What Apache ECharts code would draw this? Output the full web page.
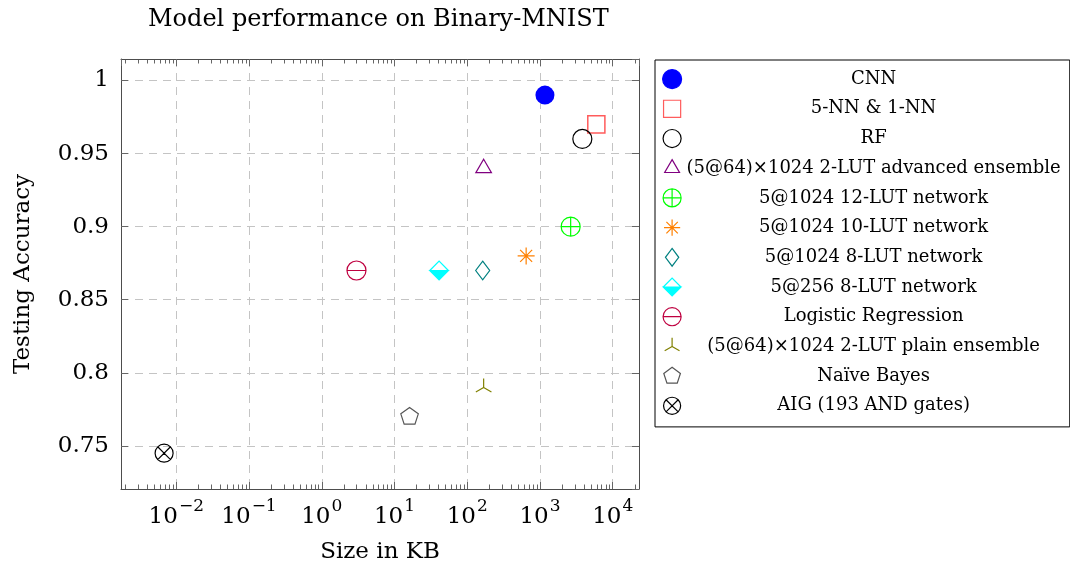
<!DOCTYPE html>
<html>
<head>
<meta charset="utf-8">
<script src="https://cdn.jsdelivr.net/npm/echarts@6/dist/echarts.min.js"></script>
<style>
html,body{margin:0;padding:0;background:#fff;}
#chart{width:1070px;height:569px;}
</style>
</head>
<body>
<div id="chart"></div>
<script>
// ---- data ----
const modelNames = [
  'CNN',
  '5-NN & 1-NN',
  'RF',
  '(5@64)×1024 2-LUT advanced ensemble',
  '5@1024 12-LUT network',
  '5@1024 10-LUT network',
  '5@1024 8-LUT network',
  '5@256 8-LUT network',
  'Logistic Regression',
  '(5@64)×1024 2-LUT plain ensemble',
  'Naïve Bayes',
  'AIG (193 AND gates)'
];
const sizeKB = [1170, 5950, 3820, 168, 2640, 645, 163, 41, 3.0, 168, 16.1, 0.0068];
const accuracy = [0.99, 0.97, 0.96, 0.94, 0.90, 0.88, 0.87, 0.87, 0.87, 0.79, 0.77, 0.745];
const colors = ['#0000ff', '#ff5c5c', '#000000', '#800080', '#00ff00', '#ff8000', '#008080', '#00ffff', '#bf0040', '#808000', '#555555', '#000000'];
const xMin = Math.pow(10, -2.76);
const xMax = Math.pow(10, 4.361);
const yMin = 0.7205;
const yMax = 1.0147;
const minorMultipliers = [2, 3, 4, 5, 6, 7, 8, 9];
const minorDecades = [-3, -2, -1, 0, 1, 2, 3, 4];

// ---- marker shapes (20x20 frame, padded so relative sizes hold) ----
const PAD = 'M-10,-10 M10,10 ';
const circ = r => `M${-r},0 A${r},${r} 0 1,1 ${r},0 A${r},${r} 0 1,1 ${-r},0 Z `;
const symbols = [
  'circle',
  'path://' + PAD + 'M-9,-9 L9,-9 L9,9 L-9,9 Z',
  'path://' + PAD + circ(9.5),
  'path://' + PAD + 'M0,-9 L7.8,4.5 L-7.8,4.5 Z',
  'path://' + PAD + circ(9.5) + 'M-9.5,0 L9.5,0 M0,-9.5 L0,9.5',
  'path://' + PAD + 'M0,-8.5 L0,8.5 M-8.5,0 L8.5,0 M-6,-6 L6,6 M-6,6 L6,-6',
  'path://' + PAD + 'M0,-9.3 L7,0 L0,9.3 L-7,0 Z',
  'path://' + PAD + 'M-9.3,0 L0,-9.3 L9.3,0 L0,-9.3 Z M-9.3,0 L9.3,0 L0,9.3 Z',
  'path://' + PAD + circ(9.5) + 'M-9.5,0 L9.5,0',
  'path://' + PAD + 'M0,0 L0,-9 M0,0 L-7.8,4.5 M0,0 L7.8,4.5',
  'path://' + PAD + 'M0,-9.2 L8.75,-2.84 L5.41,7.44 L-5.41,7.44 L-8.75,-2.84 Z',
  'path://' + PAD + circ(9) + 'M-6.4,-6.4 L6.4,6.4 M-6.4,6.4 L6.4,-6.4'
];
const fills = [colors[0], 'transparent', 'transparent', 'transparent', 'transparent', 'transparent', 'transparent', colors[7], 'transparent', 'transparent', 'transparent', 'transparent'];

const FONT = 'DejaVu Serif';
const chart = echarts.init(document.getElementById('chart'), null, {renderer: 'canvas'});

const minorTickValues = [];
minorDecades.forEach(d => minorMultipliers.forEach(m => {
  const v = m * Math.pow(10, d);
  if (v > xMin && v < xMax) minorTickValues.push([v, 0.8]);
}));

const series = modelNames.map((name, i) => ({
  name: name,
  type: 'scatter',
  data: [[sizeKB[i], accuracy[i]]],
  symbol: symbols[i],
  symbolSize: i === 0 ? 19 : (i === 1 ? 19 : 20),
  symbolKeepAspect: true,
  itemStyle: {
    color: fills[i],
    borderColor: colors[i],
    borderWidth: i === 0 ? 0 : (i === 1 ? 1.5 : 1.2),
    opacity: 1
  },
  emphasis: {disabled: true},
  z: 5
}));

series.push({
  type: 'custom',
  name: '_minor',
  silent: true,
  clip: false,
  data: minorTickValues,
  encode: {x: 0, y: 1},
  renderItem: function (params, api) {
    const x = Math.round(api.coord([api.value(0), 0.8])[0]) + 0.5;
    const cs = params.coordSys;
    return {
      type: 'group',
      children: [
        {type: 'line', shape: {x1: x, y1: cs.y + cs.height, x2: x, y2: cs.y + cs.height - 4.5}, style: {stroke: '#666', lineWidth: 1}},
        {type: 'line', shape: {x1: x, y1: cs.y, x2: x, y2: cs.y + 4.5}, style: {stroke: '#666', lineWidth: 1}}
      ]
    };
  },
  z: 3
});

function expLabel(v) {
  const e = Math.round(Math.log10(v));
  return '{b|10}{s|' + (e < 0 ? '\u2212' + (-e) : '' + e) + '}';
}

const axisLineStyle = {color: '#4d4d4d', width: 1};
const gridLine = {show: true, lineStyle: {color: '#c4c4c4', type: [8, 6], width: 1}};

const option = {
  animation: false,
  backgroundColor: '#fff',
  title: {
    text: 'Model performance on Binary-MNIST',
    left: 148,
    top: 8,
    padding: 0,
    textStyle: {fontFamily: FONT, fontSize: 24, fontWeight: 'normal', color: '#000'}
  },
  grid: {left: 121, top: 59, width: 518, height: 431, containLabel: false},
  legend: {
    orient: 'vertical',
    left: 655,
    top: 60,
    padding: [9, 9, 11, 7],
    itemGap: 9.5,
    itemWidth: 19,
    itemHeight: 19,
    borderColor: '#000',
    borderWidth: 1,
    backgroundColor: '#fff',
    data: modelNames,
    symbolKeepAspect: true,
    selectedMode: false,
    itemStyle: {borderWidth: 1.2},
    formatter: n => '{c|' + n + '}',
    textStyle: {
      fontFamily: FONT,
      fontSize: 18,
      color: '#000',
      rich: {c: {fontFamily: FONT, fontSize: 18, width: 374, align: 'center', lineHeight: 19}}
    }
  },
  xAxis: [{
    type: 'log',
    logBase: 10,
    min: xMin,
    max: xMax,
    position: 'bottom',
    name: 'Size in KB',
    nameLocation: 'middle',
    nameGap: 52,
    nameTextStyle: {fontFamily: FONT, fontSize: 23, color: '#000'},
    axisLine: {show: true, lineStyle: axisLineStyle},
    axisTick: {show: true, inside: true, length: 7, lineStyle: {color: '#666'}},
    axisLabel: {
      show: true,
      margin: 14,
      showMinLabel: false,
      showMaxLabel: false,
      formatter: expLabel,
      rich: {
        b: {fontFamily: FONT, fontSize: 23, color: '#000', lineHeight: 26, verticalAlign: 'bottom'},
        s: {fontFamily: FONT, fontSize: 17, color: '#000', lineHeight: 17, padding: [0, 0, 14, 1], verticalAlign: 'bottom'}
      }
    },
    splitLine: gridLine,
    minorTick: {show: false},
    z: 4
  }, {
    type: 'log',
    logBase: 10,
    min: xMin,
    max: xMax,
    position: 'top',
    axisLine: {show: true, lineStyle: axisLineStyle},
    axisTick: {show: true, inside: true, length: 7, lineStyle: {color: '#666'}},
    axisLabel: {show: false},
    splitLine: {show: false},
    z: 4
  }],
  yAxis: [{
    type: 'value',
    min: yMin,
    max: yMax,
    splitNumber: 6,
    position: 'left',
    name: 'Testing Accuracy',
    nameLocation: 'middle',
    nameRotate: 90,
    nameGap: 86,
    nameTextStyle: {fontFamily: FONT, fontSize: 23, color: '#000'},
    axisLine: {show: true, lineStyle: axisLineStyle},
    axisTick: {show: true, inside: true, length: 7, lineStyle: {color: '#666'}},
    axisLabel: {
      show: true,
      margin: 12,
      showMinLabel: false,
      showMaxLabel: false,
      fontFamily: FONT,
      fontSize: 23,
      color: '#000',
      formatter: v => String(+v.toFixed(2))
    },
    splitLine: gridLine,
    z: 4
  }, {
    type: 'value',
    min: yMin,
    max: yMax,
    splitNumber: 6,
    position: 'right',
    axisLine: {show: true, lineStyle: axisLineStyle},
    axisTick: {show: true, inside: true, length: 7, lineStyle: {color: '#666'}},
    axisLabel: {show: false},
    splitLine: {show: false},
    z: 4
  }],
  series: series
};
chart.setOption(option);
</script>
</body>
</html>
